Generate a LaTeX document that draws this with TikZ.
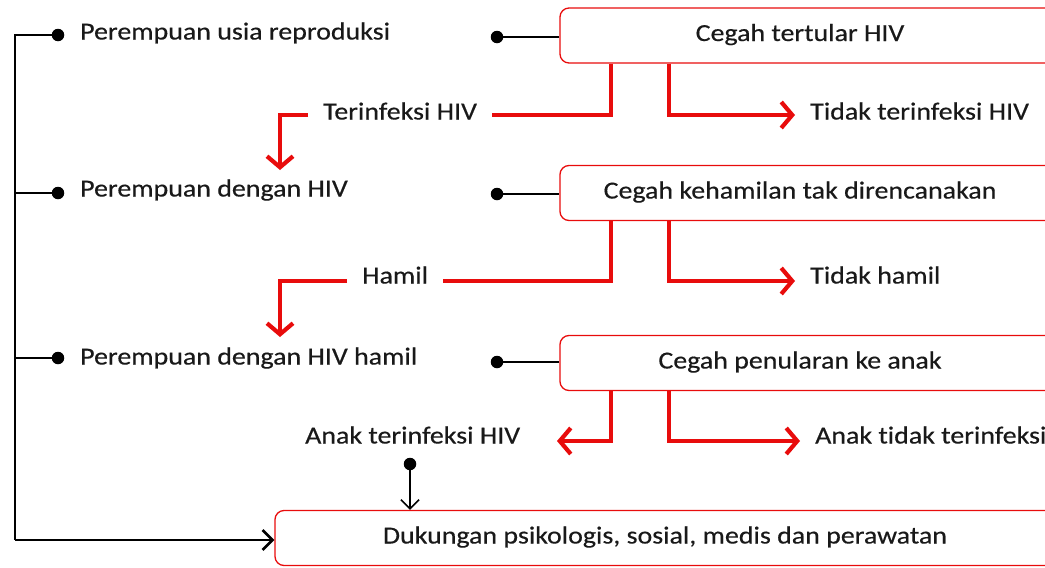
\documentclass[tikz,border=0pt]{standalone}
\usepackage{fontspec}
\setmainfont{Carlito}[FakeStretch=1.14, Ligatures=NoCommon, FakeBold=0.4]
\usetikzlibrary{arrows.meta}
\definecolor{rd}{RGB}{232,12,12}
\definecolor{tx}{RGB}{25,25,25}
\begin{document}
\begin{tikzpicture}[x=1pt,y=-1pt,
  every node/.style={font=\fontsize{24.5}{28}\selectfont, text=tx},
  lbl/.style={inner xsep=15pt, inner ysep=0pt, text height=16pt, text depth=5pt, anchor=west},
  box/.style={draw=rd, line width=1.3pt, rounded corners=9pt, minimum height=55pt, inner sep=0pt, text height=16pt, text depth=5pt},
  dot/.style={circle, fill=black, inner sep=0pt, minimum size=12.5pt},
  redline/.style={draw=rd, line width=4.2pt},
  redarrow/.style={redline, -{Straight Barb[length=11pt,width=26pt,line width=4.2pt]}},
  spine/.style={draw=black, line width=2.6pt},
  spinearrow/.style={spine, -{Straight Barb[length=10pt,width=20pt,line width=2.6pt]}},
  thinline/.style={draw=black, line width=1.6pt},
  thinarrow/.style={thinline, -{Straight Barb[length=9pt,width=18pt,line width=1.6pt]}}
]
\useasboundingbox (0,0) rectangle (1045,568);
\clip (0,0) rectangle (1045,568);

% boxes
\node[box, minimum width=495pt] (b1) at (807.5,35.5) {\hspace*{-15pt}Cegah tertular HIV};
\node[box, minimum width=495pt] (b2) at (807.5,193) {\hspace*{-15pt}Cegah kehamilan tak direncanakan};
\node[box, minimum width=495pt] (b3) at (807.5,363) {\hspace*{-15pt}Cegah penularan ke anak};
\node[box, minimum width=790pt] (b4) at (670,538) {\hspace*{-10pt}Dukungan psikologis, sosial, medis dan perawatan};

% left labels
\node[lbl] (p1) at (65,34) {Perempuan usia reproduksi};
\node[lbl] (p2) at (65,191) {Perempuan dengan HIV};
\node[lbl] (p3) at (65,359) {Perempuan dengan HIV hamil};

% branch labels
\node[lbl] (t1) at (308,114) {Terinfeksi HIV};
\node[lbl] (n1) at (795,114) {Tidak terinfeksi HIV};
\node[lbl] (t2) at (347,278) {Hamil};
\node[lbl] (n2) at (795,278) {Tidak hamil};
\node[lbl] (t3) at (290,438) {Anak terinfeksi HIV};
\node[lbl] (n3) at (800,438) {Anak tidak terinfeksi};

% left dots and spine
\node[dot] (d1) at (58,35) {};
\node[dot] (d2) at (58,193) {};
\node[dot] (d3) at (58,358) {};
\coordinate (top) at (15,35);
\coordinate (bot) at (15,540);
\draw[spine] (d1.center) -- (top) -- (bot);
\draw[spine] (d2.center) -- (top |- d2);
\draw[spine] (d3.center) -- (top |- d3);
\draw[spinearrow] (bot) -- (b4.west |- bot);

% dots to boxes
\node[dot] (e1) at (497,37) {};
\node[dot] (e2) at (497,194) {};
\node[dot] (e3) at (497,362) {};
\draw[thinline] (e1.center) -- (b1.west |- e1);
\draw[thinline] (e2.center) -- (b2.west |- e2);
\draw[thinline] (e3.center) -- (b3.west |- e3);

% arrow tips
\coordinate (a1) at (280,170);
\coordinate (a2) at (280,337);
\coordinate (a3) at (557,441);

% row 1 branches
\draw[redline] ([xshift=52pt]b1.south west) |- ([yshift=-1pt]t1.east);
\draw[redarrow] ([yshift=-1pt]t1.west) -| (a1);
\draw[redarrow] ([xshift=110pt]b1.south west) |- ([yshift=-1pt]n1.west);

% row 2 branches
\draw[redline] ([xshift=52pt]b2.south west) |- ([yshift=-3pt]t2.east);
\draw[redarrow] ([yshift=-3pt]t2.west) -| (a2);
\draw[redarrow] ([xshift=110pt]b2.south west) |- ([yshift=-3pt]n2.west);

% row 3 branches
\draw[redarrow] ([xshift=52pt]b3.south west) |- (a3);
\draw[redarrow] ([xshift=110pt]b3.south west) |- ([yshift=-3pt]n3.west);

% child infected to support
\node[dot] (e4) at (410,464) {};
\draw[thinarrow] (e4.center) -- (e4 |- b4.north);
\end{tikzpicture}
\end{document}
